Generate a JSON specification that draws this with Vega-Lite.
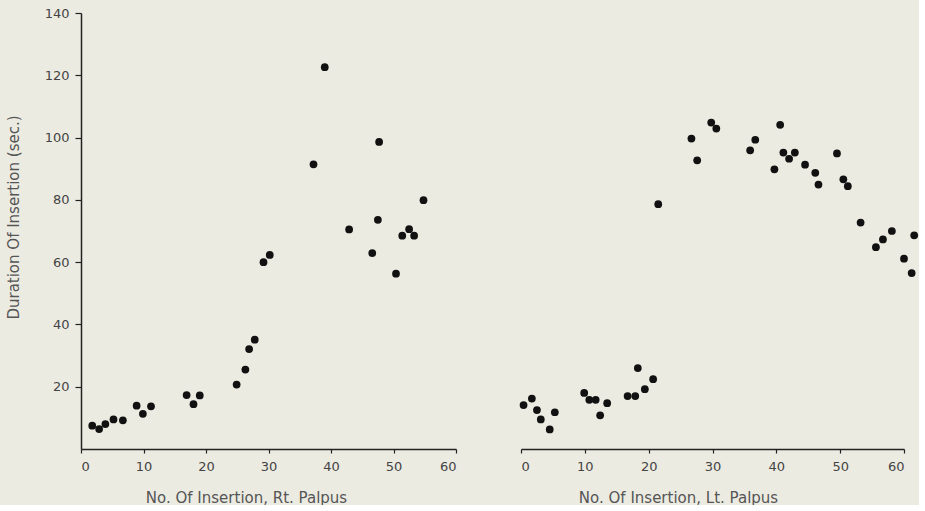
{
  "$schema": "https://vega.github.io/schema/vega-lite/v6.json",
  "background": "#ecebe2",
  "padding": {"left": 6, "top": 7, "right": 0, "bottom": 0},
  "config": {
    "view": {"stroke": null},
    "font": "DejaVu Sans",
    "axis": {
      "grid": false,
      "domainColor": "#222",
      "domainWidth": 1.5,
      "tickColor": "#222",
      "tickWidth": 1.2,
      "labelFont": "DejaVu Sans",
      "labelFontSize": 13,
      "labelColor": "#444",
      "titleFont": "DejaVu Sans",
      "titleFontSize": 15,
      "titleFontWeight": "normal",
      "titleColor": "#555"
    }
  },
  "datasets": {
    "rt": [
      {"insertion": 1.8, "duration": 7.5}, {"insertion": 2.9, "duration": 6.4}, {"insertion": 3.9, "duration": 8.0},
      {"insertion": 5.2, "duration": 9.5}, {"insertion": 6.7, "duration": 9.2}, {"insertion": 8.9, "duration": 13.9},
      {"insertion": 9.9, "duration": 11.3}, {"insertion": 11.2, "duration": 13.7}, {"insertion": 16.9, "duration": 17.3},
      {"insertion": 18.0, "duration": 14.4}, {"insertion": 19.0, "duration": 17.2}, {"insertion": 24.9, "duration": 20.7},
      {"insertion": 26.3, "duration": 25.5}, {"insertion": 26.9, "duration": 32.1}, {"insertion": 27.8, "duration": 35.1},
      {"insertion": 29.2, "duration": 60.0}, {"insertion": 30.2, "duration": 62.3}, {"insertion": 37.2, "duration": 91.4},
      {"insertion": 39.0, "duration": 122.6}, {"insertion": 42.9, "duration": 70.5}, {"insertion": 46.6, "duration": 62.9},
      {"insertion": 47.5, "duration": 73.6}, {"insertion": 47.7, "duration": 98.6}, {"insertion": 50.4, "duration": 56.3},
      {"insertion": 51.4, "duration": 68.5}, {"insertion": 52.5, "duration": 70.6}, {"insertion": 53.3, "duration": 68.5},
      {"insertion": 54.8, "duration": 79.9}
    ],
    "lt": [
      {"insertion": 0.4, "duration": 14.1}, {"insertion": 1.7, "duration": 16.2}, {"insertion": 2.5, "duration": 12.5},
      {"insertion": 3.1, "duration": 9.5}, {"insertion": 4.5, "duration": 6.3}, {"insertion": 5.3, "duration": 11.8},
      {"insertion": 9.9, "duration": 18.0}, {"insertion": 10.7, "duration": 15.8}, {"insertion": 11.7, "duration": 15.8},
      {"insertion": 12.4, "duration": 10.8}, {"insertion": 13.5, "duration": 14.7}, {"insertion": 16.7, "duration": 17.0},
      {"insertion": 17.9, "duration": 17.0}, {"insertion": 18.3, "duration": 26.0}, {"insertion": 19.4, "duration": 19.2},
      {"insertion": 20.7, "duration": 22.4}, {"insertion": 21.5, "duration": 78.6}, {"insertion": 26.7, "duration": 99.7},
      {"insertion": 27.6, "duration": 92.7}, {"insertion": 29.8, "duration": 104.8}, {"insertion": 30.6, "duration": 102.9},
      {"insertion": 35.9, "duration": 95.9}, {"insertion": 36.7, "duration": 99.3}, {"insertion": 39.7, "duration": 89.8},
      {"insertion": 40.6, "duration": 104.1}, {"insertion": 41.1, "duration": 95.2}, {"insertion": 42.0, "duration": 93.2},
      {"insertion": 42.9, "duration": 95.2}, {"insertion": 44.5, "duration": 91.3}, {"insertion": 46.1, "duration": 88.7},
      {"insertion": 46.6, "duration": 84.9}, {"insertion": 49.5, "duration": 94.9}, {"insertion": 50.5, "duration": 86.6},
      {"insertion": 51.2, "duration": 84.4}, {"insertion": 53.2, "duration": 72.7}, {"insertion": 55.6, "duration": 64.8},
      {"insertion": 56.7, "duration": 67.3}, {"insertion": 58.1, "duration": 70.0}, {"insertion": 60.0, "duration": 61.1},
      {"insertion": 61.2, "duration": 56.5}, {"insertion": 61.6, "duration": 68.6}
    ]
  },
  "bounds": "flush",
  "spacing": 65,
  "hconcat": [
    {
      "width": 375,
      "height": 436,
      "data": {"name": "rt"},
      "mark": {"type": "circle", "size": 60, "opacity": 1, "color": "#111"},
      "encoding": {
        "x": {
          "field": "insertion", "type": "quantitative",
          "scale": {"domain": [0, 60], "nice": false, "zero": false},
          "axis": {"values": [0, 10, 20, 30, 40, 50, 60], "title": "No. Of Insertion, Rt. Palpus", "tickSize": 4, "labelPadding": 7, "titleX": 165, "titleY": 48, "titleBaseline": "middle"}
        },
        "y": {
          "field": "duration", "type": "quantitative",
          "scale": {"domain": [0, 140], "nice": false},
          "axis": {"values": [20, 40, 60, 80, 100, 120, 140], "title": "Duration Of Insertion (sec.)", "tickSize": 6, "labelPadding": 6, "titleX": -68, "titleY": 204, "titleBaseline": "middle"}
        }
      }
    },
    {
      "width": 383,
      "height": 436,
      "data": {"name": "lt"},
      "mark": {"type": "circle", "size": 60, "opacity": 1, "color": "#111"},
      "encoding": {
        "x": {
          "field": "insertion", "type": "quantitative",
          "scale": {"domain": [0, 60], "nice": false, "zero": false},
          "axis": {"values": [0, 10, 20, 30, 40, 50, 60], "title": "No. Of Insertion, Lt. Palpus", "tickSize": 4, "labelPadding": 7, "titleX": 157, "titleY": 48, "titleBaseline": "middle"}
        },
        "y": {
          "field": "duration", "type": "quantitative",
          "scale": {"domain": [0, 140], "nice": false},
          "axis": null
        }
      }
    }
  ]
}
